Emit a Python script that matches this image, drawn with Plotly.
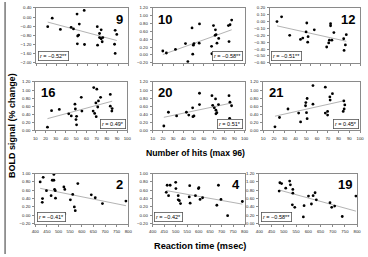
import numpy as np
import plotly.graph_objects as go

# ---------------- data ----------------
panel_ids = ["9", "10", "12", "16", "20", "21", "2", "4", "19"]
r_labels = ["<i>r</i> = \u22120.52**", "<i>r</i> = \u22120.58**", "<i>r</i> = \u22120.51**",
            "<i>r</i> = 0.49*", "<i>r</i> = 0.51*", "<i>r</i> = 0.45*",
            "<i>r</i> = \u22120.41*", "<i>r</i> = \u22120.42*", "<i>r</i> = \u22120.58**"]

x9 = [21.2, 25.6, 33.6, 44.1, 46.4, 49.9, 52.1, 56.9, 51.5, 50.5, 50.2, 57.2, 69.7, 71.9,
      73.5, 71.9, 73.5, 75.1, 74.5, 70.0, 87.2, 88.8, 86.6, 87.2]
y9 = [-0.42, -0.05, -0.54, -0.45, -0.52, 0.13, -0.31, 0.29, -0.79, -0.83, -1.17, -1.20, -0.42,
      -0.72, -0.56, -0.90, -0.95, -0.90, -1.08, -1.23, -0.58, -0.76, -1.19, -1.59]

x10 = [19.9, 23.4, 32.3, 42.1, 44.4, 48.5, 49.8, 50.4, 49.2, 55.5, 55.8, 69.5, 71.4, 71.1,
       72.0, 74.6, 72.9, 67.6, 67.9, 84.1, 85.7, 87.3, 84.7]
y10 = [0.10, 0.05, 0.14, 0.29, -0.17, 0.69, 0.25, 0.29, 0.02, 0.30, 0.79, 0.75, 0.64, 0.50,
       0.52, 0.42, 0.30, 0.22, 0.03, 0.75, 0.77, 0.89, 0.34]

x12 = [16.9, 21.5, 29.6, 40.4, 42.7, 46.0, 46.7, 48.0, 47.6, 54.2, 66.6, 68.6, 69.3, 70.5,
       70.5, 71.8, 73.8, 83.6, 86.2, 85.3, 84.0]
y12 = [0.00, 0.07, -0.20, -0.26, -0.24, -0.15, -0.02, -0.22, -0.30, -0.12, -0.37, -0.31,
       -0.27, -0.03, -0.06, -0.27, -0.16, -0.25, -0.19, -0.34, -0.42]

x16 = [21.9, 25.9, 33.5, 42.7, 45.2, 48.8, 49.2, 49.8, 50.4, 50.4, 55.0, 55.6, 67.2, 66.6,
       68.1, 69.6, 70.2, 69.3, 71.1, 71.8, 73.9, 83.4, 83.4, 84.9, 85.2]
y16 = [0.08, 0.49, 0.52, 0.41, 0.36, 0.65, 0.53, 0.27, 0.35, 0.14, 0.82, 0.48, 1.06, 0.48,
       0.42, 0.34, 1.02, 0.68, 0.58, 0.73, 0.82, 0.89, 0.60, 0.48, 0.54]

x20 = [20.9, 25.4, 33.4, 43.0, 45.3, 49.1, 49.4, 50.4, 55.8, 55.8, 68.0, 68.7, 70.3, 71.5,
       71.9, 71.9, 72.8, 74.4, 84.7, 85.6, 87.2, 85.3]
y20 = [0.11, 0.45, 0.36, 0.45, 0.38, 0.56, 0.34, 0.36, 0.64, 0.92, 0.86, 0.62, 0.56, 0.78,
       0.50, 0.41, 0.44, 0.64, 0.86, 0.70, 0.61, 0.30]

x21 = [20.9, 25.1, 33.0, 42.9, 44.7, 49.6, 49.3, 50.2, 50.8, 50.8, 56.2, 56.2, 67.7, 67.7,
       69.8, 69.8, 71.9, 72.2, 74.3, 84.9, 85.8, 85.2, 84.3]
y21 = [0.09, 0.32, 0.53, 0.43, 0.21, 0.69, 0.61, 0.44, 0.29, 0.79, 1.11, 0.65, 1.07, 0.43,
       0.47, 0.38, 0.83, 0.75, 0.91, 0.73, 0.63, 0.53, 0.47]

x2 = [421, 434, 431, 430, 448, 468, 473, 480, 480, 483, 486, 487, 523, 527, 527, 551, 561,
      568, 572, 583, 641, 658, 689, 790]
y2 = [0.80, 0.91, 0.40, 0.31, 0.59, 0.47, 0.84, 0.98, 0.84, 0.62, 0.59, 0.41, 0.68, 0.62,
      0.03, 0.37, 0.50, 0.20, 0.11, 0.76, 0.49, 0.42, 0.28, 0.34]

x4 = [459, 463, 469, 476, 500, 501, 511, 511, 516, 521, 561, 559, 563, 586, 599, 601, 606,
      617, 686, 679, 697, 726, 790]
y4 = [0.55, 0.72, 0.47, 0.72, 0.79, 0.64, 0.47, 0.37, 0.35, 0.28, 0.71, 0.44, 0.29, 0.47,
      0.64, 0.66, 0.38, 0.42, 0.72, 0.24, 0.38, -0.01, 0.33]

x19 = [484, 491, 481, 508, 524, 527, 537, 537, 535, 545, 580, 583, 601, 613, 620, 628, 633,
       689, 696, 708, 739, 795]
y19 = [0.98, 0.96, 0.78, 0.85, 1.02, 0.93, 0.82, 0.73, 0.45, 0.39, 0.16, 0.43, 0.66, 0.47,
       0.67, 0.74, 0.57, 0.50, 0.39, 0.42, 0.17, 0.66]

xs = [x9, x10, x12, x16, x20, x21, x2, x4, x19]
ys = [y9, y10, y12, y16, y20, y21, y2, y4, y19]

# ---------------- layout config ----------------
W, H = 368, 257
# pixel boxes (left, right, top, bottom)
boxes = [(33, 127, 6, 62), (152, 246, 6, 62), (272, 364, 6, 62),
         (32, 126, 81.5, 131), (152, 246, 81.5, 131), (265, 364, 81.5, 131),
         (32, 127, 175, 226), (152, 246, 175, 226), (261, 361, 175, 226)]
yranges = [(-2.0, 0.4, 0.4), (-0.2, 1.2, 0.2), (-0.6, 0.2, 0.1),
           (0, 1.2, 0.2), (0, 1.2, 0.2), (0, 1.2, 0.2),
           (-0.2, 1.0, 0.2), (-0.2, 1.0, 0.2), (0, 1.2, 0.2)]
num_pos = ["tr", "tl", "tr", "tl", "tl", "tl", "tr", "tr", "tr"]
r_pos = ["bl", "br", "bl", "br", "br", "br", "bl", "bl", "bl"]

AX = "#8a8a8a"
fig = go.Figure()
layout = {}
annotations = []
for i in range(9):
    n = "" if i == 0 else str(i + 1)
    l, r, t, b = boxes[i]
    xr = (400, 800, 50) if i >= 6 else (10, 100, 10)
    ylo, yhi, ydt = yranges[i]
    layout["xaxis" + n] = dict(
        domain=[l / W, r / W], anchor="y" + n, range=[xr[0], xr[1]],
        tickvals=list(np.arange(xr[0], xr[1] + 0.001, xr[2])),
        showticklabels=(i >= 3), ticks="outside", ticklen=2, tickwidth=0.6, tickcolor=AX,
        showline=True, linecolor=AX, linewidth=1, mirror=True, showgrid=False, zeroline=False,
        tickfont=dict(size=4.3, family="Liberation Sans", color="#222"), ticklabelstandoff=1)
    layout["yaxis" + n] = dict(
        domain=[1 - b / H, 1 - t / H], anchor="x" + n, range=[ylo, yhi],
        tickvals=[round(v, 2) for v in np.arange(ylo, yhi + 1e-6, ydt)], tickformat=".2f",
        ticks="outside", ticklen=2, tickwidth=0.6, tickcolor=AX,
        showline=True, linecolor=AX, linewidth=1, mirror=True, showgrid=False, zeroline=False,
        tickfont=dict(size=4.3, family="Liberation Sans", color="#222"), ticklabelstandoff=1)

    x = np.array(xs[i], float)
    y = np.array(ys[i], float)
    k, c = np.polyfit(x, y, 1)
    lx = np.array([x.min(), x.max()])
    fig.add_trace(go.Scatter(x=lx, y=k * lx + c, mode="lines", xaxis="x" + n, yaxis="y" + n,
                             line=dict(color="#a0a0a0", width=0.8), showlegend=False,
                             hoverinfo="skip"))
    fig.add_trace(go.Scatter(x=x, y=y, mode="markers", xaxis="x" + n, yaxis="y" + n,
                             marker=dict(size=2.8, color="black"), showlegend=False))

    ref = "x" + n + " domain"
    yref = "y" + n + " domain"
    p = num_pos[i]
    annotations.append(dict(
        text="<b>" + panel_ids[i] + "</b>", xref=ref, yref=yref,
        x=0.97 if p[1] == "r" else 0.04, y=0.97,
        xanchor="right" if p[1] == "r" else "left", yanchor="top", showarrow=False,
        font=dict(size=13, family="Liberation Sans", color="black")))
    q = r_pos[i]
    annotations.append(dict(
        text=r_labels[i], xref=ref, yref=yref,
        x=0.985 if q[1] == "r" else 0.015, y=0.04,
        xanchor="right" if q[1] == "r" else "left", yanchor="bottom", showarrow=False,
        bordercolor="#555", borderwidth=0.8, borderpad=1.2, bgcolor="white",
        font=dict(size=5.5, family="Liberation Sans", color="black")))

annotations += [
    dict(text="<b>BOLD signal (% change)</b>", xref="paper", yref="paper", x=7.5 / W,
         y=1 - 126 / H, textangle=-90, showarrow=False, xanchor="center", yanchor="middle",
         font=dict(size=9, family="Liberation Sans", color="black")),
    dict(text="<b>Number of hits (max 96)</b>", xref="paper", yref="paper", x=196 / W,
         y=1 - 154 / H, showarrow=False, xanchor="center", yanchor="middle",
         font=dict(size=8.7, family="Liberation Sans", color="black")),
    dict(text="<b>Reaction time (msec)</b>", xref="paper", yref="paper", x=200 / W,
         y=1 - 249 / H, showarrow=False, xanchor="center", yanchor="middle",
         font=dict(size=9.2, family="Liberation Sans", color="black")),
]

fig.update_layout(
    width=W, height=H, margin=dict(l=0, r=0, t=0, b=0),
    paper_bgcolor="white", plot_bgcolor="white",
    annotations=annotations,
    shapes=[dict(type="line", xref="paper", yref="paper", x0=0.003, x1=0.003, y0=0, y1=1,
                 line=dict(color="#777", width=1.5))],
    **layout)

fig.write_html("out.html")
